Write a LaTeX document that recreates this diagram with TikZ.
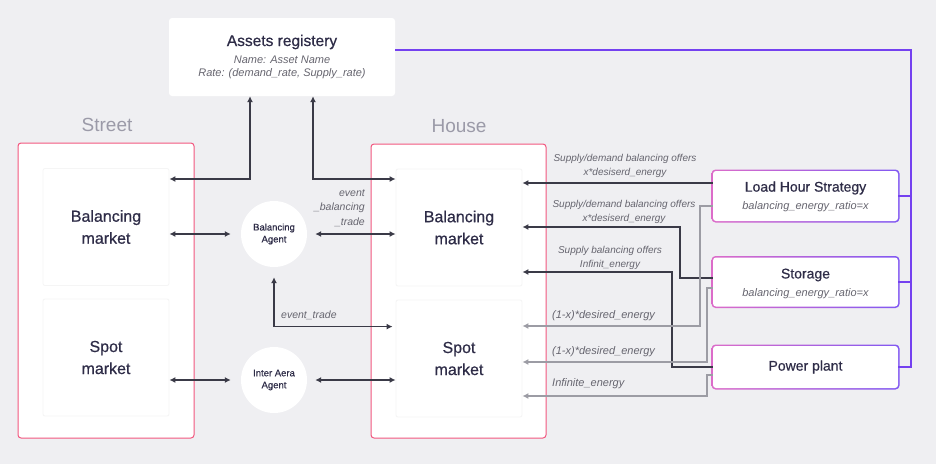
\documentclass[tikz,border=0pt]{standalone}
\usepackage{fontspec}
\setmainfont{Liberation Sans}
\newfontfamily\midfont{Liberation Sans}[FakeBold=0.6]
\usetikzlibrary{arrows.meta,backgrounds}

\definecolor{bgcol}{HTML}{EFEFF2}
\definecolor{ink}{HTML}{2E2C47}
\definecolor{notegray}{HTML}{66656F}
\definecolor{zonegray}{HTML}{9B9AA8}
\definecolor{rose}{HTML}{F2577F}
\definecolor{wire}{HTML}{3A3A47}
\definecolor{faint}{HTML}{9C9CA4}
\definecolor{orchid}{HTML}{DC6CC9}
\definecolor{iris}{HTML}{8158F2}
\definecolor{busviolet}{HTML}{7440F0}

\tikzset{
  zonebox/.style={draw=rose, line width=1pt, fill=white, rounded corners=3pt,
    minimum width=176pt, minimum height=295pt},
  zonelabel/.style={text=zonegray, font=\fontsize{19}{22}\selectfont},
  market/.style={fill=white, draw=black!4, line width=0.8pt, rounded corners=2pt,
    minimum width=126pt, minimum height=117pt, align=center, text=ink,
    font=\midfont\fontsize{16}{22}\selectfont},
  agent/.style={circle, fill=white, minimum size=66pt, inner sep=0pt,
    align=center, text=ink, font=\midfont\fontsize{9.5}{12}\selectfont},
  asset/.style={fill=white, rounded corners=3pt, minimum width=185pt},
  title/.style={text=ink, inner sep=0pt},
  tag/.style={text=notegray, inner sep=0pt, align=center,
    font=\fontsize{10}{14}\selectfont\itshape},
  bigtag/.style={tag, font=\fontsize{11}{14}\selectfont\itshape},
  link/.style={wire, line width=1.2pt, -{Latex[length=6pt,width=6pt]}},
  biarrow/.style={wire, line width=1.2pt,
    {Latex[length=6pt,width=6pt]}-{Latex[length=6pt,width=6pt]}},
  softlink/.style={faint, line width=1.2pt, -{Latex[length=6pt,width=6pt]}},
  busline/.style={busviolet, line width=1.5pt},
}

\begin{document}
\begin{tikzpicture}[x=1pt,y=-1pt]
\useasboundingbox (0,0) rectangle (936,464);

% areas
\node[zonebox] (street) at (106,290.5) {};
\node[zonebox, minimum width=175pt, minimum height=294pt] (house) at (458.5,291) {};
\node[zonelabel] (streetlbl) at (107,125) {Street};
\node[zonelabel] (houselbl) at (459,126) {House};

% markets
\node[market] (sbal) at (106,227) {Balancing\\market};
\node[market] (sspot) at (106,357.5) {Spot\\market};
\node[market] (hbal) at (459,227.5) {Balancing\\market};
\node[market] (hspot) at (459,358.5) {Spot\\market};

% agents
\node[agent] (bag) at (274,234) {Balancing\\Agent};
\node[agent] (iag) at (274,380) {Inter Aera\\Agent};

% registry
\node[fill=white, rounded corners=3pt, minimum width=226pt, minimum height=78pt]
  (reg) at (282,57) {};
\node[title, font=\midfont\fontsize{15.5}{18}\selectfont] (regtitle) at (282,42) {Assets registery};
\node[bigtag] (regname) at (282,60) {Name: Asset Name};
\node[bigtag] (regrate) at (282,74) {Rate: (demand\_rate, Supply\_rate)};

% assets
\node[asset, minimum height=50pt] (lhs) at (805.5,196) {};
\node[title, font=\midfont\fontsize{14}{16}\selectfont] (lhstitle) at (805.5,188) {Load Hour Strategy};
\node[bigtag] (lhsratio) at (805.5,207) {balancing\_energy\_ratio=x};
\node[asset, minimum height=49pt] (sto) at (805.5,282) {};
\node[title, font=\midfont\fontsize{14}{16}\selectfont] (stotitle) at (805.5,275) {Storage};
\node[bigtag] (storatio) at (805.5,294) {balancing\_energy\_ratio=x};
\node[asset, minimum height=42pt] (pp) at (805.5,367) {};
\node[title, font=\midfont\fontsize{14}{16}\selectfont] (pptitle) at (805.5,367) {Power plant};

% registry links
\draw[biarrow] ([yshift=48pt]sbal.east) -| ([xshift=-32pt]reg.south);
\draw[biarrow] ([xshift=31pt]reg.south) |- ([yshift=48.5pt]hbal.west);

% agent links
\draw[biarrow, shorten >=10pt] (sbal.east |- bag) -- (bag);
\draw[biarrow, shorten <=8pt] (bag) -- (bag -| hbal.west);
\draw[biarrow, shorten >=10pt] (sspot.east |- iag) -- (iag);
\draw[biarrow, shorten <=8pt] (iag) -- (iag -| hspot.west);
\draw[biarrow, shorten <=10pt] (bag.south) |- ([xshift=-3pt,yshift=-27pt]hspot.north west);
\node[tag, anchor=east, align=right, font=\fontsize{10.5}{14.5}\selectfont\itshape]
  (evbal) at (365,208) {event\\\_balancing\\\_trade};
\node[tag, anchor=west, font=\fontsize{10.5}{14}\selectfont\itshape]
  (evtrade) at (281,315) {event\_trade};

% offers
\draw[link] ([yshift=13pt]lhs.west) -- ([yshift=13pt]lhs.west -| hbal.east);
\draw[link] ([yshift=4pt]sto.west) -| (680,227) -- (hbal.east |- 0,227);
\draw[link] (pp.west) -| (672,272) -- (hbal.east |- 0,272);
\draw[softlink] ([yshift=-10pt]lhs.west) -| (700,326) -- (hspot.east |- 0,326);
\draw[softlink] ([yshift=-6pt]sto.west) -| (707,362) -- (hspot.east |- 0,362);
\draw[softlink] ([yshift=-8pt]pp.west) -| (707,396) -- (hspot.east |- 0,396);

\node[tag] (offer1) at (625,166) {Supply/demand balancing offers\\x*desiserd\_energy};
\node[tag] (offer2) at (624,212) {Supply/demand balancing offers\\x*desiserd\_energy};
\node[tag] (offer3) at (610,257.5) {Supply balancing offers\\Infinit\_energy};
\node[bigtag, anchor=west] (rest1) at (552,316) {(1-x)*desired\_energy};
\node[bigtag, anchor=west] (rest2) at (552,352) {(1-x)*desired\_energy};
\node[bigtag, anchor=west] (rest3) at (552,384) {Infinite\_energy};

% bus
\coordinate (busx) at (911,0);
\draw[busline] ([yshift=7pt]reg.east) -| (busx |- pp.east) -- (pp.east);
\draw[busline] (lhs.east) -- (lhs.east -| busx);
\draw[busline] (sto.east) -- (sto.east -| busx);

\begin{scope}[on background layer]
  \fill[bgcol] (0,0) rectangle (936,464);
  \foreach \n in {lhs,sto,pp}
    \shade[rounded corners=4pt, left color=orchid, right color=iris]
      ([shift={(-1.3pt,-1.3pt)}]\n.south west) rectangle ([shift={(1.3pt,1.3pt)}]\n.north east);
\end{scope}
\end{tikzpicture}
\end{document}
